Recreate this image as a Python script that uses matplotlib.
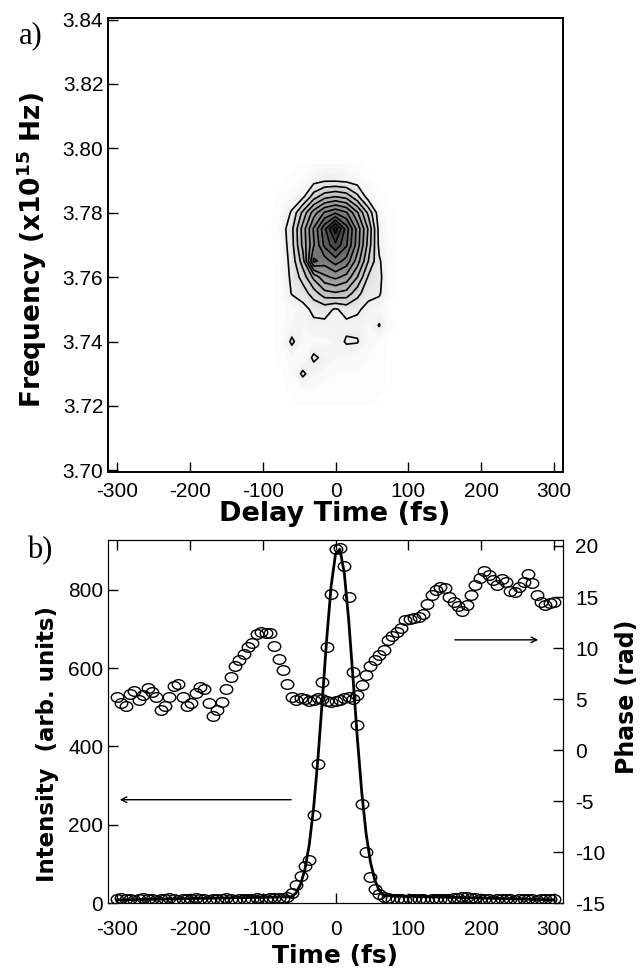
import numpy as np
import matplotlib
matplotlib.use('Agg')
import matplotlib.pyplot as plt
from matplotlib.colors import LinearSegmentedColormap
from matplotlib.path import Path
from matplotlib.transforms import Affine2D

plt.rcParams['font.family'] = ['Liberation Sans', 'DejaVu Sans']
plt.rcParams['mathtext.fontset'] = 'custom'
plt.rcParams['mathtext.bf'] = 'DejaVu Sans:bold'
plt.rcParams['axes.unicode_minus'] = False

# a) spectrogram, values (peak = 100)
delay = [-90, -75, -60, -45, -30, -15, 0, 15, 30, 45, 60, 75, 90]
freq = [3.720, 3.725, 3.730, 3.735, 3.740, 3.745, 3.750, 3.755,
        3.760, 3.765, 3.770, 3.775, 3.780, 3.785, 3.790, 3.795]
spec = [
    [0, 0, 0, 1, 1, 1, 1, 1, 1, 1, 0, 0, 0],
    [0, 0, 1, 2, 2, 1, 1, 1, 2, 1, 1, 0, 0],
    [0, 0, 2, 9.5, 4, 3, 2, 2, 2, 1, 1, 0, 0],
    [0, 1, 3, 2, 9.5, 6, 4, 3, 3, 2, 1, 0, 0],
    [0, 1, 9.5, 3, 3, 3, 4, 9, 8.5, 3, 2, 0, 0],
    [0, 1, 4, 4, 6, 6, 6, 6, 6, 3, 8.5, 1, 0],
    [0, 1, 3, 5, 10, 11, 7, 11, 9, 6, 4, 0, 0],
    [0, 1, 8.5, 12, 20, 29, 31, 29, 19, 10, 9, 1, 0],
    [0, 1, 10, 19, 34, 46, 50, 45, 32, 15, 10, 1, 0],
    [0, 2, 11, 28, 66, 60, 68, 61, 44, 24, 9, 1, 0],
    [0, 2, 13, 34, 55, 74, 86, 73, 52, 29, 6, 1, 0],
    [0, 3, 14, 35, 57, 78, 100, 76, 53, 31, 5, 1, 0],
    [0, 2, 9, 26, 44, 57, 63, 57, 41, 22, 3, 1, 0],
    [0, 1, 3, 6, 20, 29, 32, 29, 18, 4, 1, 0, 0],
    [0, 0, 1, 2, 5, 7, 7, 6, 4, 1, 0, 0, 0],
    [0, 0, 0, 1, 2, 3, 3, 2, 1, 0, 0, 0, 0],
]
contour_levels = [8, 16, 24, 32, 40, 48, 56, 64, 72, 80, 88, 96]

# b) measured intensity / phase, sampled every 6 fs from -300 to 300
time_fs = np.arange(-300, 301, 6)
intensity = [10, 12, 10, 11, 9, 10, 12, 11, 10, 9, 11, 10, 12, 10, 9, 11, 10, 10, 12, 11,
             10, 9, 10, 11, 10, 12, 10, 9, 11, 10, 10, 11, 12, 10, 11, 13, 12, 14, 13, 15,
             25, 45, 70, 95, 110, 226, 356, 564, 654, 790, 905, 908, 860, 782, 590, 454,
             254, 131, 67, 35, 22, 15,
             12, 10, 11, 10, 9, 10, 11, 10, 10, 9, 10, 11, 10, 10, 11, 12, 13, 15, 16, 14,
             12, 11, 10, 10, 9, 10, 11, 10, 10, 9, 10, 11, 10, 10, 9, 10, 11, 10, 10]
phase = [5.2, 4.6, 4.3, 5.5, 5.8, 4.9, 5.4, 6.1, 5.7, 5.2, 3.9, 4.3, 5.2, 6.3, 6.5, 5.2,
         4.3, 4.6, 5.6, 6.2, 6.0, 4.6, 3.3, 3.9, 4.7, 6.0, 7.2, 8.2, 8.8, 9.4, 10.1, 10.5,
         11.4, 11.6, 11.5, 11.5, 10.2, 8.9, 7.8, 6.5, 5.2, 4.9, 5.1, 5.0, 4.8, 4.9, 5.1, 5.0,
         4.8, 4.7, 4.8, 4.9, 5.1, 5.2, 5.0, 5.4, 6.4, 7.4, 8.2, 8.8, 9.3, 9.8, 10.8, 11.2,
         11.6, 12.0, 12.7, 12.8, 12.9, 13.0, 13.3, 14.3, 15.2, 15.7, 16.0, 15.9, 15.0, 14.5,
         14.1, 13.6, 14.2, 15.2, 16.2, 16.9, 17.5, 17.2, 16.7, 16.2, 16.8, 16.5, 15.6, 15.5,
         16.0, 16.5, 17.3, 16.4, 15.2, 14.5, 14.2, 14.4, 14.5]
# fitted curve
fit_t = [-300, -60, -54, -48, -42, -36, -30, -24, -18, -12, -6, 0, 6, 12, 18, 24, 30,
         36, 42, 48, 54, 60, 66, 300]
fit_I = [8, 16, 26, 48, 86, 150, 245, 372, 522, 677, 810, 892, 904, 844, 725, 575, 420,
         283, 177, 104, 58, 32, 19, 8]

fig = plt.figure(figsize=(6.44, 9.71), dpi=100)

# ---- a) ----
ax1 = fig.add_axes([0.168, 0.514, 0.706, 0.4675])
grey = LinearSegmentedColormap.from_list('grey', ['white', '#2a2a2a'])
ax1.contourf(delay, freq, spec, levels=np.linspace(0.5, 101, 60), cmap=grey, vmin=0, vmax=100)
ax1.contour(delay, freq, spec, levels=contour_levels, colors='k', linewidths=1.2)
ax1.set_xlim(-312, 312)
ax1.set_ylim(3.6995, 3.8405)
ax1.set_xticks([-300, -200, -100, 0, 100, 200, 300])
ax1.set_yticks([3.70, 3.72, 3.74, 3.76, 3.78, 3.80, 3.82, 3.84])
ax1.set_yticklabels(['%.2f' % v for v in ax1.get_yticks()])
ax1.tick_params(direction='in', length=7, width=1, labelsize=15)
ax1.tick_params(axis='x', pad=7)
for s in ax1.spines.values():
    s.set_linewidth(1.4)

# ---- b) ----
ax2 = fig.add_axes([0.168, 0.070, 0.706, 0.374])
ax3 = ax2.twinx()
ell = Path.unit_circle().transformed(Affine2D().scale(1.3, 1.0))
ax2.plot(fit_t, fit_I, 'k-', lw=2)
ax2.plot(time_fs, intensity, ls='none', marker=ell, ms=9, mfc='none', mec='k', mew=1)
ax3.plot(time_fs, phase, ls='none', marker=ell, ms=9, mfc='none', mec='k', mew=1)
ax2.set_xlim(-312, 312)
ax2.set_ylim(0, 928)
ax3.set_ylim(-15, 20.6)
ax2.set_xticks([-300, -200, -100, 0, 100, 200, 300])
ax2.set_yticks([0, 200, 400, 600, 800])
ax3.set_yticks([-15, -10, -5, 0, 5, 10, 15, 20])
ax2.tick_params(direction='in', length=7, width=1, labelsize=15, top=True)
ax2.tick_params(axis='x', pad=12)
ax3.tick_params(direction='in', length=7, width=1, labelsize=15, pad=9)
ax2.annotate('', xy=(-300, 264), xytext=(-57, 264),
             arrowprops=dict(arrowstyle='->', lw=1, color='k'))
ax3.annotate('', xy=(282, 10.8), xytext=(160, 10.8),
             arrowprops=dict(arrowstyle='->', lw=1, color='k'))

# labels
lab = dict(family='DejaVu Sans', weight='bold', ha='center', va='center')
fig.text(0.050, 1 - 250 / 971, 'Frequency (x10$^{\\mathbf{15}}$ Hz)', rotation=90,
         size=19, **lab)
fig.text(335 / 644, 1 - 514 / 971, 'Delay Time (fs)', size=19.5, **lab)
fig.text(0.073, 1 - 744 / 971, 'Intensity  (arb. units)', rotation=90, size=16.5, **lab)
fig.text(627 / 644, 1 - 697 / 971, 'Phase (rad)', rotation=90, size=17, **lab)
fig.text(335 / 644, 1 - 956 / 971, 'Time (fs)', size=18, **lab)
fig.text(31 / 644, 1 - 36 / 971, 'a)', family='Liberation Serif', size=22,
         ha='center', va='center')
fig.text(40 / 644, 1 - 551 / 971, 'b)', family='Liberation Serif', size=22,
         ha='center', va='center')

fig.savefig('out.png', dpi=100)
